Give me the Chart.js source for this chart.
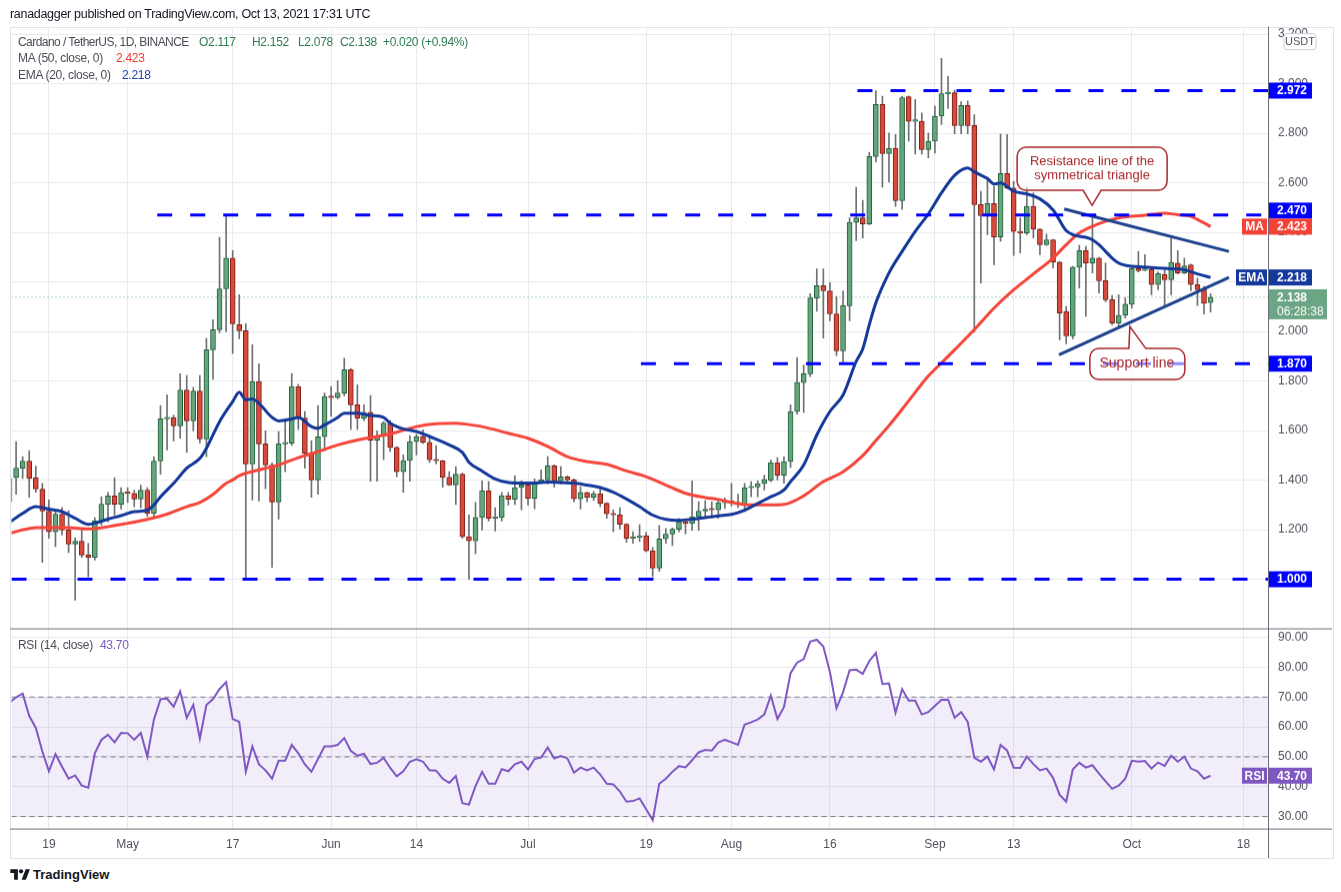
<!DOCTYPE html>
<html>
<head>
<meta charset="utf-8">
<script src="https://cdn.jsdelivr.net/npm/chart.js@4.4.1/dist/chart.umd.min.js"></script>
<style>
html,body{margin:0;padding:0;background:#fff;}
body{width:1341px;height:892px;position:relative;overflow:hidden;font-family:"Liberation Sans",Arial,sans-serif;color:#131722;}
.t{position:absolute;white-space:nowrap;font-size:12px;line-height:14px;color:#4a4d57;letter-spacing:-0.3px;}
#frame{position:absolute;left:10px;top:27px;width:1324px;height:832px;border:1px solid #e0e3eb;box-sizing:border-box;}
#wrap{position:absolute;left:10px;top:27px;width:1322px;height:831px;}
.g{color:#2f7d52;}
</style>
</head>
<body>
<div id="frame"></div>
<div id="wrap"><canvas id="c"></canvas></div>

<div class="t" style="left:10px;top:7px;font-size:12.5px;color:#131722">ranadagger published on TradingView.com, Oct 13, 2021 17:31 UTC</div>

<div class="t" style="left:18px;top:35px;letter-spacing:-0.55px">Cardano / TetherUS, 1D, BINANCE</div>
<div class="t g" style="left:199px;top:35px">O2.117</div>
<div class="t g" style="left:252px;top:35px">H2.152</div>
<div class="t g" style="left:298px;top:35px">L2.078</div>
<div class="t g" style="left:340px;top:35px">C2.138</div>
<div class="t g" style="left:383px;top:35px">+0.020 (+0.94%)</div>
<div class="t" style="left:18px;top:51px">MA (50, close, 0)</div>
<div class="t" style="left:116px;top:51px;color:#f23b30">2.423</div>
<div class="t" style="left:18px;top:68px">EMA (20, close, 0)</div>
<div class="t" style="left:122px;top:68px;color:#1f44ad">2.218</div>
<div class="t" style="left:18px;top:638px">RSI (14, close)</div>
<div class="t" style="left:100px;top:638px;color:#7e57c2">43.70</div>

<div style="position:absolute;left:10px;top:867px;">
<svg width="20" height="15" viewBox="0 0 36 28"><path d="M14 24H7V11H0V4h14v20zM29 24h-8l7.5-20h8L29 24z" fill="#131722"/><circle cx="20" cy="8" r="4" fill="#131722"/></svg>
</div>
<div class="t" style="left:33px;top:868px;font-size:13px;font-weight:bold;color:#131722;letter-spacing:0">TradingView</div>

<script>
// ---------- DATA ----------
// daily candles Apr 13 .. Oct 13, 2021 (ADA/USDT, Binance)
const opens = [
 1.313,1.41,1.448,1.477,1.410,1.364,1.275,1.192,1.263,1.199,1.142,1.154,1.098,1.088,1.235,1.303,1.336,1.303,
 1.351,1.346,1.324,1.360,1.266,1.477,1.647,1.652,1.619,1.764,1.639,1.760,1.566,1.926,2.007,2.172,2.296,2.027,2.003,1.465,1.798,1.546,1.461,1.312,1.546,1.549,1.778,1.650,1.509,1.401,1.575,
 1.737,1.733,1.751,1.845,1.704,1.650,1.674,1.561,1.578,1.630,1.532,1.434,1.479,1.556,1.576,1.553,1.482,1.478,1.411,1.380,1.424,1.172,1.155,1.249,1.357,1.246,1.249,1.337,1.323,1.370,
 1.381,1.327,1.392,1.401,1.458,1.397,1.413,1.401,1.325,1.350,1.331,1.345,1.307,1.264,1.260,1.222,1.165,1.169,1.176,1.115,1.045,1.163,1.182,1.202,1.232,1.225,1.252,1.275,1.283,1.280,1.309,
 1.315,1.310,1.302,1.369,1.372,1.386,1.399,1.471,1.420,1.475,1.677,1.794,1.829,2.135,2.185,2.164,2.071,1.922,2.104,2.440,2.458,2.434,2.706,2.916,2.718,2.738,2.528,2.947,2.848,2.848,2.734,
 2.768,2.869,2.959,2.963,2.831,2.912,2.831,2.512,2.467,2.516,2.381,2.637,2.579,2.404,2.397,2.505,2.413,2.350,2.370,2.280,2.081,1.982,2.259,2.326,2.276,2.296,2.205,2.128,2.034,2.065,
 2.110,2.253,2.246,2.249,2.189,2.229,2.209,2.276,2.236,2.269,2.189,2.171,2.117
];
const highs = [
 1.42,1.556,1.495,1.519,1.457,1.387,1.320,1.280,1.290,1.277,1.168,1.199,1.145,1.248,1.333,1.350,1.410,1.370,
 1.370,1.360,1.380,1.370,1.495,1.701,1.744,1.663,1.829,1.822,1.775,1.822,1.973,2.047,2.380,2.469,2.326,2.148,2.031,1.946,1.870,1.599,1.470,1.596,1.647,1.830,1.787,1.677,1.560,1.701,1.751,
 1.778,1.801,1.892,1.850,1.785,1.704,1.741,1.599,1.636,1.640,1.535,1.502,1.580,1.585,1.603,1.570,1.539,1.480,1.434,1.455,1.428,1.260,1.310,1.397,1.394,1.289,1.351,1.351,1.418,1.397,
 1.390,1.405,1.441,1.495,1.462,1.455,1.417,1.405,1.374,1.352,1.355,1.374,1.309,1.280,1.289,1.224,1.192,1.220,1.190,1.128,1.217,1.205,1.207,1.245,1.234,1.397,1.313,1.317,1.313,1.319,1.328,
 1.387,1.343,1.387,1.394,1.397,1.420,1.481,1.491,1.495,1.704,1.895,1.865,2.152,2.252,2.252,2.198,2.141,2.164,2.458,2.582,2.529,2.723,2.972,2.949,2.801,2.795,2.949,2.950,2.936,2.882,2.801,
 2.909,3.102,3.030,2.974,2.927,2.930,2.875,2.566,2.622,2.586,2.797,2.795,2.606,2.458,2.582,2.559,2.415,2.393,2.372,2.283,2.101,2.263,2.347,2.343,2.465,2.299,2.276,2.145,2.148,2.135,
 2.263,2.323,2.310,2.259,2.240,2.253,2.380,2.326,2.296,2.272,2.215,2.182,2.152
];
const lows = [
 1.30,1.343,1.407,1.331,1.351,1.068,1.165,1.132,1.178,1.108,0.916,1.088,1.010,1.077,1.219,1.232,1.259,1.283,
 1.310,1.293,1.289,1.253,1.253,1.424,1.522,1.558,1.569,1.512,1.599,1.550,1.495,1.807,1.995,2.000,1.912,1.970,1.000,1.320,1.316,1.365,1.048,1.243,1.434,1.540,1.605,1.448,1.331,1.343,1.519,
 1.657,1.728,1.740,1.605,1.605,1.640,1.396,1.396,1.482,1.516,1.414,1.351,1.396,1.502,1.548,1.471,1.465,1.371,1.378,1.302,1.165,1.000,1.104,1.199,1.235,1.195,1.235,1.300,1.302,1.280,
 1.300,1.284,1.388,1.384,1.371,1.384,1.394,1.313,1.283,1.313,1.318,1.293,1.246,1.192,1.203,1.149,1.145,1.152,1.111,1.011,1.032,1.145,1.136,1.192,1.183,1.198,1.198,1.246,1.246,1.246,1.286,
 1.296,1.289,1.273,1.333,1.333,1.360,1.394,1.401,1.388,1.451,1.666,1.673,1.818,2.081,1.973,2.043,1.903,1.868,2.043,2.366,2.377,2.431,2.684,2.582,2.603,2.505,2.492,2.768,2.716,2.716,2.700,
 2.720,2.835,2.900,2.797,2.797,2.797,1.997,2.195,2.390,2.269,2.364,2.575,2.307,2.317,2.390,2.377,2.310,2.347,2.256,1.966,1.950,1.970,2.175,2.061,2.236,2.155,2.120,2.027,2.020,2.054,
 2.094,2.240,2.245,2.148,2.168,2.105,2.148,2.232,2.233,2.164,2.105,2.070,2.078
];
const closes = [
 1.407,1.448,1.477,1.407,1.364,1.275,1.192,1.263,1.199,1.142,1.154,1.098,1.088,1.235,1.303,1.336,1.303,1.351,
 1.346,1.324,1.360,1.266,1.477,1.647,1.652,1.619,1.764,1.639,1.760,1.566,1.926,2.007,2.172,2.296,2.031,2.003,1.465,1.798,1.546,1.461,1.312,1.546,1.549,1.778,1.650,1.509,1.401,1.575,1.737,
 1.733,1.751,1.845,1.704,1.650,1.674,1.561,1.578,1.630,1.532,1.434,1.479,1.556,1.576,1.553,1.482,1.478,1.411,1.380,1.424,1.172,1.155,1.249,1.357,1.246,1.249,1.337,1.323,1.370,1.381,
 1.327,1.392,1.401,1.458,1.397,1.413,1.401,1.325,1.350,1.331,1.345,1.307,1.264,1.260,1.222,1.165,1.169,1.176,1.115,1.045,1.163,1.182,1.202,1.232,1.225,1.252,1.275,1.283,1.280,1.309,1.315,
 1.310,1.302,1.369,1.375,1.386,1.403,1.471,1.420,1.475,1.677,1.794,1.829,2.135,2.185,2.164,2.071,1.922,2.104,2.440,2.458,2.434,2.706,2.916,2.718,2.738,2.528,2.943,2.848,2.850,2.734,2.768,
 2.869,2.959,2.963,2.831,2.912,2.831,2.512,2.467,2.516,2.381,2.637,2.579,2.404,2.397,2.505,2.413,2.350,2.370,2.280,2.074,1.982,2.259,2.326,2.276,2.296,2.205,2.128,2.034,2.065,2.110,
 2.253,2.245,2.249,2.189,2.233,2.209,2.279,2.236,2.265,2.189,2.168,2.114,2.138
];
const rsiVals = [
 68.2,69.9,71.2,63.7,59.7,51.8,45.2,50.9,46.7,42.7,43.8,40.4,39.7,51.2,55.7,57.4,54.9,58.0,
 57.9,55.7,58.0,50.1,62.5,69.3,69.5,66.8,71.9,63.1,67.4,56.1,67.4,69.3,72.7,75.0,62.7,61.7,45.0,53.5,47.5,45.5,42.7,48.7,48.7,54.0,51.2,47.5,45.0,49.3,53.5,
 53.5,54.0,56.3,52.0,50.4,51.0,47.6,48.0,49.7,46.3,43.5,45.2,48.4,49.2,48.4,45.5,45.4,42.7,41.3,43.6,34.5,34.0,40.2,45.0,41.0,41.0,45.9,45.2,47.5,48.4,
 45.8,49.3,49.8,53.1,49.5,50.3,49.5,44.7,46.4,45.5,46.4,44.1,41.0,40.8,38.4,35.0,35.2,36.1,32.5,28.8,41.0,42.7,45.0,46.9,46.5,48.9,51.5,52.3,52.1,54.8,55.7,
 54.9,54.0,60.8,61.6,62.5,64.2,70.5,62.7,66.7,78.0,81.6,82.7,88.6,89.2,86.9,78.4,66.3,71.6,79.0,79.2,77.8,82.1,84.8,74.4,74.6,64.8,72.7,68.8,68.8,64.2,65.0,
 67.1,69.1,69.2,63.1,65.0,61.7,49.7,48.4,50.1,45.8,54.0,52.1,46.4,46.3,50.1,47.6,45.5,46.1,43.0,37.3,35.0,45.8,48.0,46.4,47.2,44.4,41.8,39.3,40.4,42.7,
 48.7,48.4,48.6,46.1,48.1,47.0,50.4,48.4,50.1,46.1,45.2,42.7,43.7
];
// day index: 0 = Apr 19 (first candle Apr 13 = -6)
const firstDay = -6;
// EMA(20) at sample days
const emaDays = [-6,-4,-2,0,2,4,6,7,9,11,13,15,16,17,19,21,23,24,26,28,29,30,31,32,34,35,37,38,40,41,42,44,45,47,49,51,52,54,56,58,61,63,64,66,68,70,72,74,76,78,80,82,84,86,88,90,92,94,96,98,100,102,104,106,108,110,112,113,115,117,119,121,123,124,125,126,128,130,132,134,136,138,140,141,143,144,145,147,149,151,153,154,155,156,157,158,159,160,161,162,163,164,165,167,169,171,173,175,177];
const emaVals = [1.230,1.266,1.293,1.283,1.273,1.246,1.222,1.226,1.243,1.257,1.273,1.279,1.300,1.333,1.387,1.448,1.488,1.529,1.636,1.717,1.755,1.724,1.728,1.710,1.653,1.639,1.647,1.653,1.616,1.609,1.623,1.653,1.670,1.670,1.661,1.653,1.630,1.607,1.596,1.576,1.542,1.512,1.472,1.437,1.405,1.390,1.388,1.388,1.392,1.390,1.388,1.380,1.370,1.351,1.324,1.293,1.259,1.242,1.238,1.242,1.249,1.256,1.262,1.279,1.306,1.333,1.360,1.394,1.461,1.582,1.677,1.744,1.879,1.930,2.027,2.115,2.236,2.323,2.404,2.474,2.559,2.630,2.660,2.644,2.617,2.595,2.599,2.566,2.555,2.535,2.490,2.448,2.407,2.391,2.384,2.380,2.370,2.350,2.323,2.296,2.276,2.267,2.263,2.260,2.256,2.253,2.249,2.232,2.218];
// MA(50) at sample days
const maDays = [-6,-4,-2,0,3,6,9,12,15,18,21,23,25,27,28,29,30,33,35,38,41,44,47,50,53,56,59,62,64,66,70,73,76,79,82,85,88,91,94,97,100,102,104,107,110,112,115,118,121,124,126,128,131,134,136,138,141,144,147,150,153,155,157,159,161,163,165,167,170,172,174,175,176,177];
const maVals = [1.185,1.199,1.208,1.208,1.208,1.203,1.212,1.226,1.242,1.263,1.293,1.310,1.343,1.387,1.401,1.418,1.428,1.448,1.461,1.491,1.515,1.542,1.562,1.576,1.593,1.616,1.628,1.630,1.624,1.616,1.589,1.569,1.536,1.495,1.475,1.464,1.437,1.414,1.380,1.347,1.330,1.322,1.310,1.300,1.300,1.302,1.337,1.394,1.434,1.499,1.560,1.620,1.720,1.820,1.873,1.926,2.007,2.094,2.168,2.232,2.296,2.350,2.397,2.424,2.444,2.458,2.465,2.469,2.477,2.471,2.465,2.451,2.438,2.423];
// horizontal levels drawn by the author
const levelVals  = [2.972, 2.470, 1.870, 1.000];
const levelStart = [123.2, 16.5, 90.2, -5.7];
// triangle trend lines [day, price]
const resistLine = [[154.7, 2.494], [179.8, 2.323]];
const supportLine = [[153.9, 1.906], [179.8, 2.218]];
const rsiLevels = [70, 50, 30];
// axis ticks
const priceTicks = [1.0,1.2,1.4,1.6,1.8,2.0,2.2,2.4,2.6,2.8,3.0,3.2];
const rsiTicks = [30,40,50,60,70,80,90];
const dayTicks = [0,12,28,43,56,73,91,104,119,135,147,165,182];
const dayTickLabels = ['19','May','17','Jun','14','Jul','19','Aug','16','Sep','13','Oct','18'];

// ---------- VIEW ----------
const X_MIN = -5.7, X_MAX = 185.75;
const P_MIN = 0.802, P_MAX = 3.230;
const R_MIN = 25.98, R_MAX = 93.02;
const FONT = '"Liberation Sans", Arial, sans-serif';
const GRID = '#e9eaee';
const TICKC = '#50535e';
const UP = '#65a57c', UPB = '#24603c', DN = '#d84a3b', DNB = '#7a1f17';
const PANE_TOP = 27, PANE_H = 831;

const days = opens.map((_, i) => firstDay + i);
const isUp = closes.map((c, i) => c >= opens[i]);
const lastClose = closes[closes.length - 1];

const datasets = [];
levelVals.forEach((v, i) => datasets.push({
  type:'line', yAxisID:'y', data:[{x:levelStart[i], y:v},{x:X_MAX, y:v}],
  borderColor:'#0000ff', borderWidth:3, borderDash:[15,18], pointRadius:0, order:0
}));
[resistLine, supportLine].forEach(l => datasets.push({
  type:'line', yAxisID:'y', data:l.map(p => ({x:p[0], y:p[1]})),
  borderColor:'#1f438e', borderWidth:3, pointRadius:0, order:0
}));
datasets.push({type:'line', yAxisID:'y', data:emaDays.map((d,i)=>({x:d,y:emaVals[i]})),
  borderColor:'#15399a', borderWidth:3, pointRadius:0, cubicInterpolationMode:'monotone', order:1});
datasets.push({type:'line', yAxisID:'y', data:maDays.map((d,i)=>({x:d,y:maVals[i]})),
  borderColor:'#f5463c', borderWidth:3, pointRadius:0, cubicInterpolationMode:'monotone', order:1});
datasets.push({type:'bar', yAxisID:'y', data:days.map((d,i)=>({x:d, y:[opens[i], closes[i]]})),
  backgroundColor:isUp.map(u=>u?UP:DN), borderColor:isUp.map(u=>u?UPB:DNB), borderWidth:1,
  borderSkipped:false, barThickness:5, minBarLength:1.5, grouped:false, order:2});
datasets.push({type:'bar', yAxisID:'y', data:days.map((d,i)=>({x:d, y:[lows[i], highs[i]]})),
  backgroundColor:'#6f7073', barThickness:1, grouped:false, order:3});
datasets.push({type:'line', yAxisID:'y', data:[{x:X_MIN,y:lastClose},{x:X_MAX,y:lastClose}],
  borderColor:'#4e9a6c', borderWidth:1, borderDash:[1,3], pointRadius:0, order:4});
// RSI pane
datasets.push({type:'line', yAxisID:'rsi', data:days.map((d,i)=>({x:d,y:rsiVals[i]})),
  borderColor:'#7e57c2', borderWidth:2, pointRadius:0, order:1});
rsiLevels.forEach((v, i) => datasets.push({
  type:'line', yAxisID:'rsi', data:[{x:X_MIN,y:v},{x:X_MAX,y:v}],
  borderColor:'#787b86', borderWidth:1, borderDash:[5,4], pointRadius:0,
  fill: i === 0 ? {value: rsiLevels[rsiLevels.length-1]} : false,
  backgroundColor:'rgba(126,87,194,0.10)', order:5
}));

function rrect(ctx, x, y, w, h, r){
  ctx.beginPath();
  ctx.moveTo(x+r,y); ctx.lineTo(x+w-r,y); ctx.arcTo(x+w,y,x+w,y+r,r);
  ctx.lineTo(x+w,y+h-r); ctx.arcTo(x+w,y+h,x+w-r,y+h,r);
  ctx.lineTo(x+r,y+h); ctx.arcTo(x,y+h,x,y+h-r,r);
  ctx.lineTo(x,y+r); ctx.arcTo(x,y,x+r,y,r); ctx.closePath();
}

const overlay = {
  id:'overlay',
  afterDraw(chart){
    const {ctx, chartArea:ca, scales} = chart;
    const sx = scales.x, sy = scales.y, sr = scales.rsi;
    ctx.save();
    // pane borders
    ctx.strokeStyle = '#6a6d78'; ctx.lineWidth = 1;
    ctx.beginPath();
    ctx.moveTo(0, sr.top + 0.5); ctx.lineTo(chart.width, sr.top + 0.5);
    ctx.moveTo(0, ca.bottom + 0.5); ctx.lineTo(chart.width, ca.bottom + 0.5);
    ctx.moveTo(ca.right + 0.5, ca.top); ctx.lineTo(ca.right + 0.5, chart.height);
    ctx.stroke();

    // callouts
    const red = '#a8262b';
    {
      const ax = sx.getPixelForValue(158.95), ay = sy.getPixelForValue(2.509);
      const L = ax - 75, R = ax + 75, T = ay - 58, B = ay - 15, r = 9;
      ctx.beginPath();
      ctx.moveTo(L+r,T); ctx.lineTo(R-r,T); ctx.arcTo(R,T,R,T+r,r);
      ctx.lineTo(R,B-r); ctx.arcTo(R,B,R-r,B,r);
      ctx.lineTo(ax+9,B); ctx.lineTo(ax,ay); ctx.lineTo(ax-9,B);
      ctx.lineTo(L+r,B); ctx.arcTo(L,B,L,B-r,r);
      ctx.lineTo(L,T+r); ctx.arcTo(L,T,L+r,T,r); ctx.closePath();
      ctx.fillStyle = 'rgba(255,255,255,0.6)'; ctx.fill();
      ctx.strokeStyle = red; ctx.lineWidth = 1.5; ctx.stroke();
      ctx.fillStyle = red; ctx.font = '13px ' + FONT; ctx.textAlign = 'center'; ctx.textBaseline = 'middle';
      ctx.fillText('Resistance line of the', ax, ay - 44);
      ctx.fillText('symmetrical triangle', ax, ay - 30);
    }
    {
      const ax = sx.getPixelForValue(164.7), ay = sy.getPixelForValue(2.020);
      const L = ax - 40, R = ax + 55, T = ay + 22, B = ay + 53, r = 9;
      ctx.beginPath();
      ctx.moveTo(L+r,T); ctx.lineTo(ax-1,T); ctx.lineTo(ax,ay); ctx.lineTo(ax+16,T);
      ctx.lineTo(R-r,T); ctx.arcTo(R,T,R,T+r,r);
      ctx.lineTo(R,B-r); ctx.arcTo(R,B,R-r,B,r);
      ctx.lineTo(L+r,B); ctx.arcTo(L,B,L,B-r,r);
      ctx.lineTo(L,T+r); ctx.arcTo(L,T,L+r,T,r); ctx.closePath();
      ctx.fillStyle = 'rgba(255,255,255,0.55)'; ctx.fill();
      ctx.strokeStyle = red; ctx.lineWidth = 1.5; ctx.stroke();
      ctx.fillStyle = red; ctx.font = '14px ' + FONT; ctx.textAlign = 'center'; ctx.textBaseline = 'middle';
      ctx.fillText('Support line', ax + 7, ay + 37);
    }

    // price axis labels
    const X1 = ca.right + 1, W = 43;
    const labels = [];
    levelVals.forEach(v => labels.push({y:sy.getPixelForValue(v), h:16, bg:'#0000ff', lines:[v.toFixed(3)], w:W}));
    labels.push({y:sy.getPixelForValue(maVals[maVals.length-1]), h:16, bg:'#f44336', lines:[maVals[maVals.length-1].toFixed(3)], tag:'MA', tagW:25, w:W});
    labels.push({y:sy.getPixelForValue(emaVals[emaVals.length-1]), h:16, bg:'#15399a', lines:[emaVals[emaVals.length-1].toFixed(3)], tag:'EMA', tagW:31, w:W});
    labels.push({y:sy.getPixelForValue(lastClose), h:30, top0:8, bg:'#6ca583', lines:[lastClose.toFixed(3), '06:28:38'], w:58});
    labels.forEach(l => { l.top = l.y - (l.top0 !== undefined ? l.top0 : l.h/2); });
    labels.sort((a,b) => a.top - b.top);
    for (let i = labels.length - 2; i >= 0; i--) {
      if (labels[i].top + labels[i].h > labels[i+1].top) labels[i].top = labels[i+1].top - labels[i].h;
    }
    const rv = rsiVals[rsiVals.length-1];
    labels.push({top:sr.getPixelForValue(rv) - 8, h:16, bg:'#7e57c2', lines:[rv.toFixed(2)], tag:'RSI', tagW:25, w:W});

    ctx.textBaseline = 'middle';
    labels.forEach(l => {
      ctx.fillStyle = l.bg;
      ctx.fillRect(X1, l.top, l.w, l.h);
      ctx.fillStyle = '#fff'; ctx.font = 'bold 12px ' + FONT; ctx.textAlign = 'left';
      if (l.lines.length === 1) {
        ctx.fillText(l.lines[0], X1 + 8, l.top + l.h/2 + 0.5);
      } else {
        ctx.fillText(l.lines[0], X1 + 8, l.top + 8.5);
        ctx.font = '12px ' + FONT;
        ctx.fillText(l.lines[1], X1 + 8, l.top + 22.5);
      }
      if (l.tag) {
        ctx.fillStyle = l.bg;
        ctx.fillRect(ca.right - 1 - l.tagW, l.top, l.tagW, l.h);
        ctx.fillStyle = '#fff'; ctx.font = 'bold 12px ' + FONT; ctx.textAlign = 'center';
        ctx.fillText(l.tag, ca.right - 1 - l.tagW/2, l.top + l.h/2 + 0.5);
      }
    });

    // USDT badge
    rrect(ctx, ca.right + 16, ca.top + 7, 32, 16, 3);
    ctx.fillStyle = '#fff'; ctx.fill();
    ctx.strokeStyle = '#c9ccd4'; ctx.lineWidth = 1; ctx.stroke();
    ctx.fillStyle = '#50535e'; ctx.font = '11px ' + FONT; ctx.textAlign = 'center';
    ctx.fillText('USDT', ca.right + 32, ca.top + 15.5);
    ctx.restore();
  }
};

const chart = new Chart(document.getElementById('c'), {
  type:'bar',
  data:{datasets},
  options:{
    responsive:true, maintainAspectRatio:false, animation:false,
    layout:{padding:0},
    plugins:{legend:{display:false}, tooltip:{enabled:false}},
    scales:{
      x:{type:'linear', position:'bottom', min:X_MIN, max:X_MAX, offset:false,
        grid:{color:GRID, drawTicks:false, offset:false}, border:{display:false},
        ticks:{color:TICKC, font:{size:12, family:FONT}, padding:9, maxRotation:0, autoSkip:false,
          callback:(v)=>{const k = dayTicks.indexOf(v); return k >= 0 ? dayTickLabels[k] : '';}},
        afterBuildTicks:(s)=>{ s.ticks = dayTicks.map(v=>({value:v})); },
        afterFit:(s)=>{ s.height = 30; }
      },
      y:{type:'linear', position:'right', stack:'pane', stackWeight:601, min:P_MIN, max:P_MAX,
        grid:{color:GRID, drawTicks:false}, border:{display:false},
        ticks:{color:TICKC, font:{size:12, family:FONT, lineHeight:0.1}, padding:10,
          callback:(v)=>Number(v).toFixed(3)},
        afterBuildTicks:(s)=>{ s.ticks = priceTicks.map(v=>({value:v})); },
        afterFit:(s)=>{ s.width = 64; }
      },
      rsi:{type:'linear', position:'right', stack:'pane', stackWeight:200, min:R_MIN, max:R_MAX,
        grid:{color:GRID, drawTicks:false}, border:{display:false},
        ticks:{color:TICKC, font:{size:12, family:FONT, lineHeight:0.1}, padding:10,
          callback:(v)=>Number(v).toFixed(2)},
        afterBuildTicks:(s)=>{ s.ticks = rsiTicks.map(v=>({value:v})); },
        afterFit:(s)=>{ s.width = 64; }
      }
    }
  },
  plugins:[overlay]
});
// compensate Chart.js' automatic top padding so the plot area starts at the pane top
const off = chart.chartArea.top;
if (off > 0) {
  const wrap = document.getElementById('wrap');
  wrap.style.top = (PANE_TOP - off) + 'px';
  wrap.style.height = (PANE_H + off) + 'px';
  chart.resize();
}
</script>
</body>
</html>
